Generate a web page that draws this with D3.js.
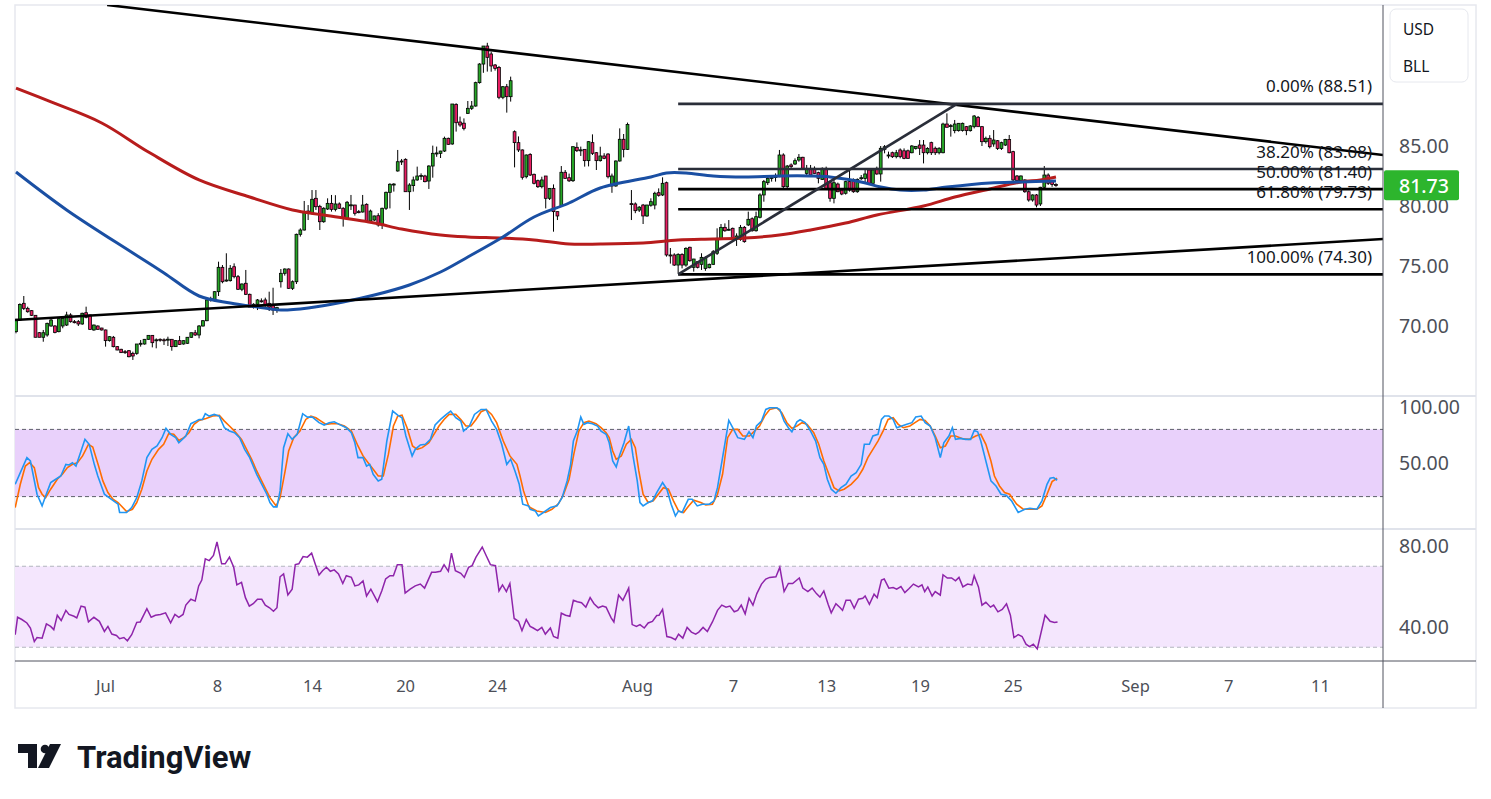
<!DOCTYPE html>
<html>
<head>
<meta charset="utf-8">
<script src="https://cdn.jsdelivr.net/npm/d3@7/dist/d3.min.js"></script>
<style>
  body { margin: 0; background: #ffffff; }
  svg { display: block; font-family: "Noto Sans", Roboto, sans-serif; }
</style>
</head>
<body>
<div id="chart"></div>
<script>

// 4h candles, index 0 = first candle on the left
const candleOpen = [
  69.53,70.50,71.89,71.47,71.28,70.89,69.44,69.06,69.25,70.00,
  70.00,69.53,70.00,70.08,70.92,70.36,70.36,70.17,71.11,70.92,
  69.67,70.00,69.83,69.67,68.78,69.06,68.28,68.06,67.86,67.94,
  67.72,67.72,68.55,68.50,68.89,69.22,68.83,68.89,68.85,68.87,
  68.89,68.28,68.78,68.50,68.56,69.06,69.44,69.25,70.00,70.44,
  72.30,72.11,72.86,74.89,73.75,73.78,74.94,74.11,73.06,73.56,
  72.64,71.56,71.81,72.10,72.17,71.89,71.69,71.33,73.69,74.39,
  74.75,73.14,73.69,77.64,78.00,79.58,79.39,80.64,79.97,78.69,
  79.75,80.22,79.72,80.17,79.81,78.97,80.08,80.08,79.53,79.50,
  80.14,78.75,78.83,79.19,78.42,79.81,81.14,81.81,82.92,83.72,
  83.89,81.19,81.70,82.17,82.50,82.50,82.08,83.33,84.39,84.39,
  84.58,85.64,85.17,88.47,87.00,86.90,87.72,88.14,88.33,90.28,
  91.83,93.33,92.67,91.75,91.55,89.06,89.94,89.11,86.19,85.28,
  84.67,82.44,84.30,82.64,82.11,81.61,82.50,80.64,81.47,79.53,
  80.03,82.81,82.36,82.11,84.89,84.66,84.72,83.78,85.28,84.44,
  83.78,84.17,84.33,81.67,81.67,83.75,85.56,84.72,80.20,80.17,
  79.66,80.08,79.17,80.06,80.08,81.11,80.92,81.94,75.92,75.92,
  75.08,75.97,75.08,76.56,74.89,75.36,75.14,74.80,74.86,75.14,
  76.06,77.22,78.22,78.00,78.14,77.22,77.22,78.22,78.42,78.94,
  77.94,79.06,80.92,81.94,82.30,82.40,82.44,84.25,81.61,83.42,
  83.50,83.83,84.06,82.72,83.14,83.14,82.78,82.22,83.14,81.94,
  80.64,81.83,81.33,81.06,82.03,82.22,81.19,82.30,82.30,83.00,
  81.89,83.14,82.67,84.72,84.25,84.44,84.11,84.67,84.60,84.60,
  84.44,84.80,85.08,85.08,84.44,85.28,84.81,84.44,84.44,86.83,
  86.67,86.28,86.28,86.30,86.61,86.28,86.61,87.39,86.61,85.36,
  85.64,85.17,85.44,84.80,85.08,85.55,84.53,82.50,82.11,82.17,
  81.19,80.50,80.92,80.17,81.56,82.58,82.03,81.80
];
const candleHigh = [
  70.56,71.89,72.50,71.61,71.33,70.89,69.50,69.67,70.28,70.64,
  70.08,70.64,70.69,71.19,71.06,70.50,70.50,71.11,71.61,70.95,
  70.12,70.05,69.85,69.70,69.15,69.17,68.33,68.10,68.00,68.00,
  67.86,68.50,68.83,68.92,69.22,69.25,68.97,68.97,68.97,69.11,
  68.92,68.80,69.17,68.80,69.08,69.44,69.67,70.08,70.50,72.20,
  72.44,72.90,75.36,75.08,76.06,75.08,75.22,74.25,73.55,74.67,
  72.70,71.90,72.25,72.30,72.36,72.86,73.19,71.60,74.75,74.80,
  74.80,73.80,77.70,78.14,80.42,80.08,81.33,81.33,80.10,79.90,
  80.64,80.92,80.90,80.30,79.90,80.42,80.92,80.10,79.67,80.92,
  80.22,79.70,79.20,79.40,79.86,81.20,81.90,81.90,84.67,83.92,
  83.97,81.90,82.45,83.28,82.72,82.60,83.40,85.03,84.95,84.60,
  85.78,85.70,88.50,88.56,87.45,87.30,88.75,88.75,90.36,91.90,
  93.33,93.60,92.86,91.83,91.67,90.00,90.17,90.78,86.30,85.80,
  84.72,84.30,84.40,82.70,82.20,82.44,82.50,81.50,81.80,79.53,
  83.33,83.00,82.70,84.97,85.30,84.95,84.72,85.40,85.97,84.50,
  84.94,84.40,84.40,82.70,83.80,86.47,86.00,86.95,81.33,80.30,
  80.00,80.17,80.10,80.64,81.19,81.47,82.39,82.03,76.50,76.06,
  76.06,76.06,76.56,76.61,75.60,75.40,76.06,75.80,75.20,76.33,
  78.14,78.50,78.55,78.83,78.20,77.72,78.42,78.33,79.53,79.05,
  79.53,81.06,82.17,82.45,82.58,82.72,84.67,84.39,83.42,83.55,
  83.97,84.33,84.10,83.42,83.42,83.30,82.86,83.22,83.28,82.03,
  82.17,81.95,81.40,82.10,83.00,82.30,82.30,82.58,83.00,83.05,
  83.10,83.28,85.00,85.08,84.53,84.53,84.67,84.80,84.80,84.70,
  85.08,85.00,85.50,85.50,84.90,85.36,84.95,84.90,86.94,87.72,
  86.83,87.17,86.90,86.95,86.67,86.75,87.58,87.50,86.67,85.78,
  85.90,86.33,85.50,85.36,85.60,85.92,84.60,82.58,82.55,82.22,
  81.30,80.97,81.00,81.60,83.33,82.72,82.17,81.90
];
const candleLow = [
  69.39,70.44,71.33,71.11,70.83,69.06,69.06,68.69,69.11,69.94,
  69.39,69.47,69.81,70.00,70.28,70.22,70.00,70.10,70.64,69.67,
  69.60,69.70,69.62,68.28,68.70,68.22,67.98,67.75,67.67,67.39,
  67.17,67.60,68.28,68.45,68.85,68.22,68.14,68.69,68.42,68.33,
  67.94,68.25,68.42,68.45,68.50,69.00,69.17,68.97,69.95,70.40,
  72.03,72.05,72.50,73.56,73.69,73.70,73.97,73.00,72.90,72.58,
  71.58,71.45,71.33,71.95,71.61,71.25,70.92,71.10,73.20,74.20,
  73.10,73.00,73.50,77.45,77.95,78.83,79.30,79.67,78.00,78.60,
  79.67,79.53,79.55,79.75,78.28,78.92,79.67,79.20,79.39,79.45,
  78.70,78.65,78.75,78.28,78.08,79.67,79.80,81.20,82.86,83.42,
  81.19,79.67,81.20,82.10,82.17,81.97,81.42,82.36,84.10,84.00,
  84.50,85.10,85.10,86.20,86.60,86.30,87.67,88.00,88.28,90.20,
  91.10,91.20,91.19,91.28,88.90,88.90,87.78,88.70,83.22,84.50,
  82.20,82.30,82.50,81.80,81.50,81.47,79.80,80.50,77.86,78.83,
  80.00,82.30,82.00,82.00,84.50,84.17,83.28,83.30,84.25,83.00,
  83.70,83.90,82.30,81.10,81.60,83.70,84.05,84.67,78.83,79.40,
  79.50,78.50,79.10,79.94,79.72,80.78,80.83,75.78,75.20,75.00,
  74.39,74.80,74.94,75.36,74.53,74.80,74.67,74.60,74.80,75.08,
  75.92,77.20,77.85,77.95,77.20,76.67,77.10,76.94,78.33,77.86,
  77.86,78.97,80.36,81.75,82.03,82.03,82.40,81.47,81.47,83.14,
  83.42,83.69,83.00,82.58,82.50,82.70,81.89,82.17,81.33,80.36,
  80.22,81.15,80.90,80.95,81.20,81.10,81.10,82.17,81.90,81.83,
  81.80,82.60,82.03,84.39,83.97,84.00,83.97,83.97,83.90,83.95,
  84.39,84.70,84.25,83.55,84.30,84.25,84.25,84.30,84.39,86.55,
  85.78,86.06,86.20,86.20,85.90,86.20,86.47,86.60,85.00,85.20,
  84.80,84.94,84.67,84.67,85.00,84.39,82.03,81.95,82.00,81.10,
  80.36,80.36,79.89,80.00,81.47,81.75,81.60,81.60
];
const candleClose = [
  70.56,71.80,71.47,71.19,70.89,69.06,69.06,69.44,70.22,70.50,
  69.47,70.61,70.64,70.92,70.36,70.33,70.17,71.06,70.72,69.72,
  70.08,69.72,69.67,68.78,69.11,68.28,68.00,67.78,67.84,67.44,
  67.50,68.50,68.56,68.89,69.22,68.61,68.85,68.87,68.83,68.90,
  68.28,68.78,68.47,68.78,69.06,69.44,69.25,70.00,70.44,72.17,
  72.17,72.86,74.89,73.69,73.83,74.81,74.11,73.06,73.50,72.64,
  71.58,71.81,72.17,72.08,71.75,71.56,71.33,71.53,74.39,74.75,
  73.14,73.69,77.64,78.00,79.53,79.39,80.56,79.94,78.69,79.81,
  80.22,79.72,80.17,79.81,79.03,80.31,80.10,79.39,79.50,80.08,
  78.75,79.58,79.17,78.42,79.81,81.14,81.81,81.83,83.69,83.75,
  81.19,81.75,82.17,82.50,82.55,82.03,83.33,84.39,84.42,84.58,
  85.64,85.14,88.50,86.94,86.75,86.47,88.14,88.33,90.28,91.83,
  93.33,92.39,91.67,91.47,89.06,89.94,89.11,90.44,85.28,84.67,
  82.39,84.25,82.58,81.89,81.61,82.17,80.64,81.47,79.53,79.17,
  82.81,82.30,82.10,84.94,84.61,84.68,83.78,85.36,84.39,83.78,
  84.17,83.97,82.44,82.50,83.75,85.56,84.72,86.80,80.17,79.61,
  79.90,79.17,80.08,80.36,81.06,80.89,81.89,75.92,75.90,75.08,
  75.97,75.08,76.47,75.44,75.58,74.89,75.72,75.72,75.14,76.19,
  77.31,78.22,77.94,78.06,77.22,77.50,78.22,77.03,78.89,77.94,
  79.11,80.92,82.03,82.31,82.39,82.45,84.25,81.61,83.33,83.28,
  83.78,84.06,83.14,83.14,82.58,82.72,82.31,83.14,81.39,80.64,
  81.94,81.19,81.00,82.03,81.33,81.19,82.22,82.36,82.67,81.89,
  83.00,82.67,84.81,84.94,84.25,84.11,84.44,84.11,83.97,83.97,
  85.00,84.97,84.81,84.44,84.80,84.44,84.44,84.81,86.83,86.56,
  86.70,86.83,86.89,86.89,86.28,86.67,87.50,86.61,85.36,85.64,
  84.94,85.50,84.80,85.28,85.55,84.44,82.17,82.11,82.50,81.19,
  80.50,80.92,80.08,81.56,82.58,81.89,81.80,81.73
];
const lastPrice = 81.73;

// moving averages: [candle index, price]
const maRed = [[0,89.83],[9,88.67],[22,86.92],[34,84.5],[47,82.17],[60,80.75],[71,79.67],[79,79.25],
  [92,78.58],[99,78.08],[109,77.58],[116,77.42],[125,77.33],[133,77.17],[142,76.83],[150,76.83],
  [161,76.92],[170,77.17],[179,77.25],[187,77.33],[196,77.58],[204,78.0],[213,78.58],[221,79.25],
  [233,80.0],[241,80.75],[250,81.42],[258,82.0],[263,82.17],[267,82.42]];
const maBlue = [[0,82.83],[13,79.67],[30,76.08],[38,74.42],[47,72.5],[55,71.92],[62,71.58],[68,71.33],
  [75,71.5],[84,72.0],[92,72.58],[101,73.42],[109,74.5],[116,75.75],[125,77.42],[133,79.08],
  [142,80.25],[150,81.5],[163,82.42],[167,82.75],[172,82.75],[179,82.5],[187,82.42],[196,82.5],
  [204,82.5],[209,82.42],[217,82.0],[222,81.58],[227,81.33],[233,81.33],[239,81.58],[250,81.92],
  [258,82.0],[267,82.08]];

// stochastic %K and %D: [candle index, value]
const stochK = [[-0.2,31.0],[2.8,54.8],[3.7,51.8],[5.4,22.1],[6.7,11.7],[7.6,20.6],[8.9,32.5],[10.2,35.5],
  [11.5,38.4],[12.8,48.8],[13.6,48.2],[14.5,50.3],[15.4,47.3],[16.7,60.7],[17.7,71.1],[18.8,66.7],
  [20.1,48.8],[21.0,38.4],[22.7,22.1],[24.5,17.6],[26.2,13.2],[26.6,5.8],[28.4,5.8],[29.7,10.2],
  [31.0,19.1],[32.3,34.0],[33.6,54.8],[34.9,62.2],[36.2,65.2],[37.5,72.6],[38.5,80.9],[39.7,75.6],
  [41.0,72.6],[41.8,68.1],[43.6,74.1],[44.9,85.1],[46.2,87.4],[47.0,88.9],[47.9,88.9],[48.6,94.0],
  [49.6,91.9],[50.9,93.4],[52.2,91.9],[53.5,81.5],[54.8,78.5],[56.1,77.0],[57.4,72.6],[58.7,62.2],
  [60.0,54.8],[61.8,39.9],[63.1,31.0],[64.4,22.1],[65.2,14.7],[66.1,10.8],[67.0,10.8],[67.8,25.1],
  [68.7,63.7],[69.8,76.2],[70.9,71.1],[72.2,75.6],[73.6,94.0],[74.8,91.0],[76.1,91.0],[77.8,86.0],
  [79.1,83.9],[80.4,86.0],[81.7,86.8],[83.0,84.5],[84.8,81.5],[86.1,77.0],[87.0,68.1],[87.8,54.8],
  [89.1,54.8],[90.0,47.3],[90.8,48.8],[91.7,39.9],[93.0,34.0],[93.9,35.5],[95.2,69.6],[96.7,96.4],
  [98.0,92.8],[99.1,90.4],[100.1,74.1],[101.7,56.3],[102.5,62.2],[103.8,66.1],[105.1,66.7],[106.4,71.1],
  [107.6,83.9],[109.0,88.9],[110.5,93.4],[111.6,96.4],[112.9,90.4],[114.2,87.4],[114.9,78.5],[116.4,83.0],
  [117.7,93.4],[119.4,97.8],[120.7,97.8],[122.1,87.4],[123.4,80.0],[124.7,66.7],[126.0,48.8],[127.0,53.3],
  [128.1,42.9],[129.2,31.0],[130.1,13.2],[131.6,11.7],
  [132.0,8.7],[133.3,7.2],[134.1,2.8],[135.4,5.8],[137.2,10.2],[138.9,11.7],[140.2,19.1],[141.5,34.0],
  [142.4,48.8],[143.1,69.6],[144.1,78.5],[145.0,91.0],[145.8,84.5],[146.7,86.0],[148.0,85.1],[149.3,83.0],
  [150.2,78.5],[151.5,75.6],[152.3,68.1],[153.2,51.8],[154.1,46.5],[154.9,56.3],[156.1,68.1],[157.3,83.0],
  [158.4,56.3],[159.5,34.0],[160.2,14.7],[161.0,11.7],[162.3,14.7],[163.4,16.2],[164.5,23.6],[166.0,32.5],
  [167.1,26.6],[168.2,13.2],[169.3,2.8],[170.1,7.2],[171.0,5.8],[172.6,17.6],[173.6,17.6],[174.9,11.7],
  [176.2,13.2],[178.0,13.2],[179.2,16.2],[180.1,28.0],[181.4,54.8],[183.0,88.0],[184.0,81.5],[185.3,72.6],
  [187.0,71.1],[188.2,77.9],[189.2,72.6],[190.1,83.0],[191.4,87.4],[192.5,97.8],[193.5,99.3],[195.3,99.3],
  [196.1,97.8],[197.2,87.4],[198.3,81.5],[199.2,77.9],[200.5,86.8],[201.3,88.6],[202.6,86.0],[204.0,78.5],
  [205.3,69.6],[206.4,54.8],[207.4,48.8],[208.3,35.5],[209.3,26.6],[210.5,23.0],[211.8,28.0],[213.1,31.0],
  [214.4,38.4],[215.7,41.4],[217.0,48.8],[217.8,66.7],[219.1,66.7],[220.0,74.1],[221.3,75.6],[222.2,88.9],
  [223.0,91.9],[224.1,91.9],[225.2,88.9],[226.1,81.5],[227.4,83.0],[228.7,84.5],[230.0,86.0],[231.0,91.0],
  [232.4,91.9],[233.4,86.0],[234.7,83.0],[236.0,72.6],[237.3,54.8],[238.2,68.1],[239.5,74.1],[240.4,81.5],
  [241.2,71.1],[242.5,72.0],[243.8,71.1],[245.1,71.1],[246.0,79.1],[246.9,77.9],[247.7,69.6],[249.0,51.8],
  [250.3,34.0],[251.6,29.5],[252.9,22.1],[254.2,21.2],[255.6,16.2],[257.3,5.8],[259.0,8.7],[260.3,9.6],
  [262.1,8.7],[263.4,16.2],[264.7,31.0],[265.5,36.4],[266.4,37.0],[267.3,34.6]];
const stochD = [[-0.2,10.2],[1.1,31.0],[2.4,47.3],[3.5,50.3],[4.7,45.9],[5.8,28.0],[6.7,22.1],[7.6,19.1],
  [8.9,26.6],[10.6,35.5],[11.9,39.9],[13.2,45.9],[14.5,48.8],[15.8,50.3],[17.1,56.3],[18.6,66.7],
  [19.7,64.3],[21.2,47.3],[22.3,34.0],[23.6,23.6],[24.9,17.6],[26.2,14.7],[28.4,6.7],[29.9,8.7],
  [31.0,14.7],[32.3,26.6],[33.6,42.9],[34.9,53.3],[36.6,62.2],[37.9,66.7],[39.2,76.2],[40.5,75.6],
  [41.8,70.2],[43.1,72.6],[44.4,77.0],[45.7,84.5],[47.0,88.0],[48.8,89.8],[50.5,91.9],[52.2,92.5],
  [53.5,87.4],[54.8,83.0],[56.1,78.5],[57.9,71.1],[59.2,62.2],[60.5,53.3],[61.8,42.9],[63.5,31.0],
  [65.2,19.1],[66.8,11.7],[67.8,19.1],[69.1,42.9],[70.0,60.7],[71.3,72.6],[72.9,78.5],[74.4,88.9],
  [75.7,91.9],[77.0,90.4],[78.3,87.4],[79.6,84.5],[80.9,85.1],[82.6,85.1],[84.3,83.0],[86.1,78.5],
  [87.8,65.2],[89.1,56.3],[90.4,50.3],[91.7,44.4],[93.0,38.4],[94.3,38.4],[95.6,57.7],[96.9,83.0],
  [98.0,91.9],[99.1,92.8],[100.4,81.5],[101.8,65.2],[103.0,62.2],[104.3,63.7],[106.0,68.1],[107.3,75.6],
  [108.6,83.0],[109.9,88.9],[111.2,93.4],[112.9,93.4],[114.2,88.9],[115.5,83.0],[116.8,83.0],[118.1,88.9],
  [119.4,95.8],[120.7,97.8],[122.1,93.4],[123.4,86.0],[125.1,69.6],[126.8,56.3],[128.6,48.8],[129.4,38.4],
  [130.3,25.1],[131.6,11.7],
  [132.0,10.2],[133.7,7.2],[135.9,5.8],[137.6,8.7],[139.3,13.8],[140.6,22.1],[142.0,35.5],[143.2,57.7],
  [144.5,78.5],[145.8,86.0],[147.1,87.4],[148.9,85.1],[150.2,81.5],[151.5,77.0],[152.3,72.6],[153.2,60.7],
  [154.1,53.3],[155.4,56.3],[156.7,66.7],[158.0,71.1],[159.0,63.7],[159.9,42.9],[161.0,22.1],[162.3,14.7],
  [163.6,16.2],[164.9,22.1],[166.2,28.0],[167.5,26.6],[168.8,16.2],[170.1,7.2],[171.4,5.8],[172.7,11.7],
  [174.0,16.8],[175.8,14.7],[177.1,12.6],[178.8,13.2],[180.1,22.1],[181.4,39.9],[182.7,72.6],[184.0,80.0],
  [185.3,80.0],[186.6,74.1],[188.3,74.1],[189.6,78.5],[190.9,83.0],[192.2,91.9],[193.5,97.8],[195.3,99.3],
  [196.6,94.9],[197.9,86.0],[199.2,80.9],[200.5,83.0],[201.8,86.0],[203.1,84.5],[204.8,77.0],[206.1,66.7],
  [207.4,51.8],[208.7,39.9],[210.0,28.0],[211.3,25.1],[212.6,26.6],[214.4,31.0],[216.1,37.0],[217.4,44.4],
  [218.7,54.8],[220.0,62.2],[221.3,69.6],[222.6,78.5],[223.9,88.9],[225.2,90.4],[226.5,84.5],[227.8,81.5],
  [229.5,83.0],[230.8,86.0],[232.1,88.9],[233.4,88.0],[234.7,83.0],[236.0,74.1],[237.3,63.7],[238.6,65.2],
  [240.0,74.1],[241.2,74.1],[243.0,71.7],[244.7,71.1],[246.4,74.1],[247.7,75.6],[249.0,66.7],[250.3,51.8],
  [251.2,38.4],[252.5,29.5],[253.8,23.6],[255.1,22.1],[256.9,13.2],[258.6,8.7],[260.3,8.7],[262.1,8.7],
  [263.4,11.7],[264.7,22.1],[266.0,33.4],[267.3,36.4]];

// RSI: [candle index, value]
const rsi = [[-0.2,36.2],[0.4,44.8],[1.5,43.7],[2.8,42.0],[3.7,39.5],[4.7,32.8],[5.4,34.8],[6.7,34.5],
  [7.8,41.5],[8.9,40.3],[9.7,38.7],[10.6,45.8],[11.6,43.2],[12.8,48.2],[13.6,46.2],[14.9,45.3],
  [15.6,44.5],[16.7,50.3],[17.7,49.8],[18.6,42.5],[20.0,44.8],[21.4,42.8],[22.7,37.8],[23.6,40.3],
  [24.6,36.5],[25.8,35.8],[26.6,34.2],[27.7,34.8],[28.6,33.2],[29.7,36.2],[31.0,42.3],[31.9,42.5],
  [33.6,49.0],[34.7,44.8],[35.8,45.8],[37.1,46.2],[38.4,47.0],[39.7,42.0],[40.8,46.2],[41.8,44.8],
  [42.9,46.2],[43.6,50.8],[44.9,53.7],[46.0,52.8],[46.9,60.3],[47.7,63.2],[48.6,73.7],[49.6,72.8],
  [50.7,75.3],[51.6,82.0],[52.8,71.2],[53.7,71.2],[54.8,74.5],[55.9,69.5],[56.7,60.8],[57.9,62.0],
  [58.9,54.5],[59.9,50.3],[60.9,51.5],[62.0,53.7],[63.1,53.7],[64.0,50.8],[65.1,49.5],[66.1,47.8],
  [67.0,49.5],[67.8,64.8],[68.7,66.2],[69.8,55.8],[70.9,58.7],[71.7,70.8],[72.6,71.2],[73.7,74.8],
  [74.8,74.5],[75.9,76.5],[76.8,71.2],[77.8,65.7],[78.7,67.8],[79.7,69.5],[80.7,67.5],[81.7,68.2],
  [82.8,66.2],[83.9,61.5],[84.8,65.3],[86.1,64.5],[87.0,60.3],[88.0,60.8],[89.1,62.8],[90.0,55.3],
  [91.1,58.7],[92.8,52.5],[93.9,57.8],[94.9,63.7],[96.0,65.3],[96.9,65.3],[97.9,70.8],[99.1,70.8],
  [99.9,56.7],[101.2,58.7],[102.5,60.3],[103.8,61.2],[104.9,59.2],[106.7,67.0],[107.7,67.0],[109.0,67.5],
  [109.9,70.8],[111.0,67.5],[111.8,76.5],[112.8,67.8],[114.2,66.5],[115.1,64.5],[116.2,69.5],[117.1,70.3],
  [118.1,74.5],[119.7,79.5],[120.7,75.3],[121.8,70.8],[123.1,70.3],[124.0,57.8],[124.9,60.8],[125.9,57.5],
  [126.8,61.5],[127.9,44.2],[129.0,42.8],[129.9,38.2],[131.0,43.7],
  [132.0,40.3],[132.8,39.5],[133.9,38.2],[135.0,39.8],[135.9,36.5],[137.2,39.5],[138.0,35.3],[139.1,34.5],
  [140.0,46.8],[141.1,45.8],[142.2,45.3],[143.1,53.2],[144.1,52.5],[145.2,52.0],[146.3,49.8],[147.4,54.5],
  [148.4,51.5],[149.5,49.5],[150.6,50.3],[151.5,49.8],[152.8,44.5],[153.5,42.5],[154.7,55.8],[155.8,53.2],
  [157.3,59.2],[158.2,41.2],[159.3,40.3],[160.2,41.2],[161.3,39.5],[162.3,42.0],[163.4,42.8],[164.5,45.7],
  [165.1,45.8],[166.0,48.7],[167.1,35.3],[168.2,34.8],[169.3,33.7],[170.1,36.5],[171.2,34.5],[172.3,39.8],
  [173.4,37.5],[174.5,36.5],[175.3,37.5],[176.4,39.8],[177.5,37.8],[178.8,42.5],[180.1,48.2],[181.2,50.8],
  [182.3,49.8],[183.3,50.3],[184.4,47.5],[185.3,48.2],[186.2,50.8],[187.2,46.5],[188.2,54.2],[189.2,50.8],
  [190.2,56.5],[191.4,61.2],[192.5,63.7],[193.5,64.5],[195.1,64.8],[196.1,69.5],[197.2,57.5],[198.3,61.5],
  [199.4,61.5],[201.1,64.2],[202.0,59.2],[203.3,57.5],[204.4,59.2],[205.5,56.5],[206.4,54.8],[207.4,57.8],
  [208.5,51.2],[209.3,47.0],[210.5,51.5],[211.6,49.5],[212.2,48.2],[213.1,53.2],[214.2,53.2],[215.2,49.2],
  [216.3,53.7],[217.4,54.2],[218.0,55.3],[219.1,51.2],[220.3,56.2],[221.1,54.5],[222.2,63.2],[222.9,63.7],
  [224.1,59.2],[225.2,59.5],[226.1,58.7],[227.2,60.0],[228.2,57.0],[229.3,59.0],[230.4,61.2],[231.7,59.8],
  [232.6,60.8],[233.3,57.5],[234.1,59.8],[235.2,55.3],[236.0,57.5],[237.3,55.7],[238.0,65.8],[239.1,64.2],
  [240.2,64.2],[241.2,62.8],[242.1,64.5],[243.1,59.8],[244.3,61.2],[245.4,60.8],[246.0,65.3],[247.1,59.8],
  [248.0,50.8],[249.0,52.2],[250.2,49.8],[251.0,50.8],[252.1,47.5],[253.2,48.7],[254.3,51.5],[255.3,45.8],
  [256.2,34.8],[257.3,36.2],[258.3,35.3],[259.3,31.5],[260.2,30.3],[261.2,31.5],[262.2,29.2],[264.2,45.8],
  [265.5,42.8],[266.6,42.2],[267.4,42.5]];

// trend lines and fibonacci retracement: [candle index, price]
const upperTrend = [[23.4, 96.75], [351, 84.25]];
const lowerTrend = [[-0.26, 70.5], [351, 77.25]];
const fibLow = [170, 74.30];
const fibHigh = [241.6, 88.51];
const fibLevels = [0, 0.382, 0.5, 0.618, 1];
const fibLabels = ["0.00% (88.51)", "38.20% (83.08)", "50.00% (81.40)", "61.80% (79.73)", "100.00% (74.30)"];

// axes
const priceTicks = [70, 75, 80, 85];
const stochTicks = [50, 100];
const rsiTicks = [40, 80];
const dateTickIdx = [22.85, 51.6, 76.0, 99.9, 123.5, 159.4, 184.1, 208.0, 232.1, 255.9, 287.3, 311.2, 334.8];
const dateTickLabels = ["Jul", "8", "14", "20", "24", "Aug", "7", "13", "19", "25", "Sep", "7", "11"];


// Set dimensions for the picture
const width = 1491;
const height = 799;
const plot = {left: 15, right: 1383, top: 5, frameRight: 1476, bottom: 708};
const panes = {main: [5, 396], stoch: [396, 529], rsi: [529, 661]};
const axisGrey = "#4c4f58";

const svg = d3.select("#chart")
  .append("svg")
  .attr("width", width)
  .attr("height", height);

// Scales
const x = d3.scaleLinear().domain([-0.257, 350.96]).range([plot.left, plot.right]);
const yPrice = d3.scaleLinear().domain([70, 85]).range([326, 146]);
const yStoch = d3.scaleLinear().domain([50, 100]).range([463, 407]);
const yRsi = d3.scaleLinear().domain([40, 80]).range([627, 546]);

// clip paths for every pane
const defs = svg.append("defs");
Object.entries(panes).forEach(([k, [t, b]]) => {
  defs.append("clipPath").attr("id", "clip-" + k)
    .append("rect")
    .attr("x", plot.left).attr("y", t)
    .attr("width", plot.right - plot.left).attr("height", b - t);
});

/*
  Frame
*/
svg.append("rect")
  .attr("x", plot.left).attr("y", plot.top)
  .attr("width", plot.frameRight - plot.left).attr("height", plot.bottom - plot.top)
  .attr("fill", "none").attr("stroke", "#e6e8ee").attr("stroke-width", 1.5);

[panes.stoch[0], panes.rsi[0]].forEach(yy => {
  svg.append("line")
    .attr("x1", plot.left).attr("x2", plot.frameRight)
    .attr("y1", yy).attr("y2", yy)
    .attr("stroke", "#e0e3eb").attr("stroke-width", 2);
});

/*
  Stochastic pane
*/
const gStoch = svg.append("g").attr("clip-path", "url(#clip-stoch)");
gStoch.append("rect")
  .attr("x", plot.left).attr("width", plot.right - plot.left)
  .attr("y", yStoch(80)).attr("height", yStoch(20) - yStoch(80))
  .attr("fill", "#e9d1fb");
[80, 20].forEach(v => {
  gStoch.append("line")
    .attr("x1", plot.left).attr("x2", plot.right)
    .attr("y1", yStoch(v)).attr("y2", yStoch(v))
    .attr("stroke", "#5d606b").attr("stroke-dasharray", "4,3");
});
const stochLine = d3.line().x(d => x(d[0])).y(d => yStoch(d[1]));
gStoch.append("path").datum(stochD)
  .attr("d", stochLine).attr("fill", "none")
  .attr("stroke", "#ff6d00").attr("stroke-width", 1.6);
gStoch.append("path").datum(stochK)
  .attr("d", stochLine).attr("fill", "none")
  .attr("stroke", "#2196f3").attr("stroke-width", 1.6);

/*
  RSI pane
*/
const gRsi = svg.append("g").attr("clip-path", "url(#clip-rsi)");
gRsi.append("rect")
  .attr("x", plot.left).attr("width", plot.right - plot.left)
  .attr("y", yRsi(70)).attr("height", yRsi(30) - yRsi(70))
  .attr("fill", "#f4e6fd");
[70, 30].forEach(v => {
  gRsi.append("line")
    .attr("x1", plot.left).attr("x2", plot.right)
    .attr("y1", yRsi(v)).attr("y2", yRsi(v))
    .attr("stroke", "#b2b5be").attr("stroke-dasharray", "4,3");
});
gRsi.append("path").datum(rsi)
  .attr("d", d3.line().x(d => x(d[0])).y(d => yRsi(d[1])))
  .attr("fill", "none")
  .attr("stroke", "#8e24aa").attr("stroke-width", 1.5);

/*
  Main pane: candles, moving averages, drawings
*/
const gMain = svg.append("g").attr("clip-path", "url(#clip-main)");

const candles = candleOpen.map((o, i) => ({
  i: i, o: o, h: candleHigh[i], l: candleLow[i], c: candleClose[i]
}));

gMain.selectAll(".wick")
  .data(candles)
  .enter()
  .append("line")
    .attr("class", "wick")
    .attr("x1", d => x(d.i)).attr("x2", d => x(d.i))
    .attr("y1", d => yPrice(Math.max(d.h, d.o, d.c)))
    .attr("y2", d => yPrice(Math.min(d.l, d.o, d.c)))
    .attr("stroke", "#000").attr("stroke-width", 1);

gMain.selectAll(".body")
  .data(candles)
  .enter()
  .append("rect")
    .attr("class", "body")
    .attr("x", d => x(d.i) - 1.4)
    .attr("width", 2.8)
    .attr("y", d => yPrice(Math.max(d.o, d.c)))
    .attr("height", d => Math.max(1, Math.abs(yPrice(d.o) - yPrice(d.c))))
    .attr("fill", d => d.c >= d.o ? "#26a526" : "#e91e63")
    .attr("stroke", "#000").attr("stroke-width", 0.8);

const maLine = d3.line()
  .x(d => x(d[0])).y(d => yPrice(d[1]))
  .curve(d3.curveCatmullRom);

gMain.append("path").datum(maRed)
  .attr("d", maLine).attr("fill", "none")
  .attr("stroke", "#b71c1c").attr("stroke-width", 3);
gMain.append("path").datum(maBlue)
  .attr("d", maLine).attr("fill", "none")
  .attr("stroke", "#1a4fa3").attr("stroke-width", 3);

const straight = d3.line().x(d => x(d[0])).y(d => yPrice(d[1]));

// trend lines
[upperTrend, lowerTrend].forEach(t => {
  gMain.append("path").datum(t)
    .attr("d", straight).attr("fill", "none")
    .attr("stroke", "#000").attr("stroke-width", 2.6);
});

// fibonacci levels
const fibRange = fibHigh[1] - fibLow[1];
const fibStroke = ["#2a2e39", "#2a2e39", "#000", "#000", "#000"];
fibLevels.forEach((lv, k) => {
  const p = fibHigh[1] - lv * fibRange;
  gMain.append("line")
    .attr("x1", x(fibLow[0])).attr("x2", plot.right)
    .attr("y1", yPrice(p)).attr("y2", yPrice(p))
    .attr("stroke", fibStroke[k]).attr("stroke-width", 2.6);
  gMain.append("text")
    .attr("x", plot.right - 11)
    .attr("y", yPrice(p) - 18)
    .attr("text-anchor", "end")
    .attr("dominant-baseline", "central")
    .attr("font-size", "17px")
    .attr("fill", "#131722")
    .text(fibLabels[k]);
});
gMain.append("path").datum([fibLow, fibHigh])
  .attr("d", straight).attr("fill", "none")
  .attr("stroke", "#2a2e39").attr("stroke-width", 2.6);

/*
  Axes
*/
svg.append("line")
  .attr("x1", plot.right).attr("x2", plot.right)
  .attr("y1", plot.top).attr("y2", plot.bottom)
  .attr("stroke", "#50535e");
svg.append("line")
  .attr("x1", plot.left).attr("x2", plot.frameRight)
  .attr("y1", panes.rsi[1]).attr("y2", panes.rsi[1])
  .attr("stroke", "#50535e");

const styleAxis = g => {
  g.select(".domain").remove();
  g.selectAll("text")
    .attr("font-family", "'Noto Sans', Roboto, sans-serif")
    .attr("fill", axisGrey);
};

svg.append("g")
  .attr("transform", `translate(${plot.right}, 0)`)
  .call(d3.axisRight(yPrice).tickValues(priceTicks).tickFormat(d3.format(".2f")).tickSize(0).tickPadding(16))
  .attr("font-size", "19.5px")
  .call(styleAxis);
svg.append("g")
  .attr("transform", `translate(${plot.right}, 0)`)
  .call(d3.axisRight(yStoch).tickValues(stochTicks).tickFormat(d3.format(".2f")).tickSize(0).tickPadding(16))
  .attr("font-size", "19.5px")
  .call(styleAxis);
svg.append("g")
  .attr("transform", `translate(${plot.right}, 0)`)
  .call(d3.axisRight(yRsi).tickValues(rsiTicks).tickFormat(d3.format(".2f")).tickSize(0).tickPadding(16))
  .attr("font-size", "19.5px")
  .call(styleAxis);

const xAxis = svg.append("g")
  .attr("transform", `translate(0, ${panes.rsi[1]})`)
  .call(d3.axisBottom(x).tickValues(dateTickIdx).tickFormat((d, i) => dateTickLabels[i]).tickSize(0))
  .attr("font-size", "16.5px")
  .call(styleAxis);
xAxis.selectAll("text").attr("y", 25).attr("dy", "0.35em");

// last price label
svg.append("rect")
  .attr("x", plot.right + 1).attr("y", yPrice(lastPrice) - 15)
  .attr("width", 75).attr("height", 30).attr("rx", 2)
  .attr("fill", "#2db52d");
svg.append("text")
  .attr("x", plot.right + 16).attr("y", yPrice(lastPrice))
  .attr("dominant-baseline", "central")
  .attr("font-size", "19.5px").attr("font-weight", 500)
  .attr("fill", "#ffffff")
  .text(d3.format(".2f")(lastPrice));

// currency / unit box
svg.append("rect")
  .attr("x", 1390).attr("y", 9).attr("width", 78).attr("height", 73).attr("rx", 6)
  .attr("fill", "#fff").attr("stroke", "#e6e8ee");
["USD", "BLL"].forEach((t, k) => {
  svg.append("text")
    .attr("x", 1403).attr("y", 29 + k * 37)
    .attr("dominant-baseline", "central")
    .attr("font-size", "15.5px").attr("fill", "#131722")
    .text(t);
});

/*
  TradingView logo
*/
const logo = svg.append("g").attr("fill", "#131722");
logo.append("path").attr("d", "M18,744 H37 V768 H28 V753 H18 Z");
logo.append("circle").attr("cx", 45).attr("cy", 749).attr("r", 4.3);
logo.append("path").attr("d", "M50,744 H61 L49,768 H38 Z");
logo.append("text")
  .attr("x", 77).attr("y", 768)
  .attr("font-family", "Roboto, sans-serif")
  .attr("font-size", "31px").attr("font-weight", 700)
  .text("TradingView");

</script>
</body>
</html>
